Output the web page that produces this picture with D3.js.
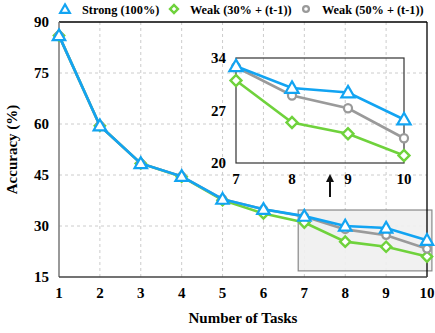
<!DOCTYPE html>
<html><head><meta charset="utf-8">
<script src="https://cdn.jsdelivr.net/npm/d3@7"></script>
<style>body{margin:0;background:#fff}svg{display:block}
svg text{font-family:"Liberation Serif";font-weight:700}</style>
</head><body><svg id="c" width="435" height="333"></svg>
<script>
const tasks = [1,2,3,4,5,6,7,8,9,10];
const strong = [86,59.5,48.4,44.6,37.9,34.9,32.9,30.0,29.4,25.8];
const weak30 = [86,59.5,48.4,44.5,37.6,33.7,31.0,25.4,23.9,21.0];
const weak50 = [86,59.5,48.4,44.6,37.9,34.9,32.8,29.0,27.3,23.3];
const yTicks = [15,30,45,60,75,90];
const insetTasks = [7,8,9,10];
const insetYTicks = [20,27,34];
const seriesNames = ["Strong (100%)","Weak (30% + (t-1))","Weak (50% + (t-1))"];
const colors = ["#12a4f2","#6fd23c","#9a9a9a"];
const shapes = ["triangle","diamond","circle"];

const svg = d3.select("#c");
const L=59,R=427,T=22,B=277;
const x = d3.scaleLinear().domain([1,10]).range([L,R]);
const y = d3.scaleLinear().domain([15,90]).range([B,T]);

// grid
const g = svg.append("g");
g.selectAll(".vg").data(tasks.slice(1,-1)).enter().append("line")
 .attr("x1",d=>x(d)).attr("x2",d=>x(d)).attr("y1",T).attr("y2",B)
 .attr("stroke","#ccc").attr("stroke-dasharray","3,3");
g.selectAll(".hg").data(yTicks.slice(1,-1)).enter().append("line")
 .attr("y1",d=>y(d)).attr("y2",d=>y(d)).attr("x1",L).attr("x2",R)
 .attr("stroke","#ccc").attr("stroke-dasharray","3,3");

// zoom box
svg.append("rect").attr("x",x(6.85)).attr("y",y(34.7)).attr("width",x(10.12)-x(6.85)).attr("height",y(16.8)-y(34.7))
 .attr("fill","#f0f0f0").attr("fill-opacity",0.9).attr("stroke","#888").attr("stroke-width",1.2);

// frame
svg.append("line").attr("x1",L).attr("x2",R).attr("y1",T).attr("y2",T).attr("stroke","#000").attr("stroke-width",1.3);
svg.append("line").attr("x1",R).attr("x2",R).attr("y1",T).attr("y2",B).attr("stroke","#000").attr("stroke-width",1.3);
svg.append("line").attr("x1",L).attr("x2",L).attr("y1",T).attr("y2",B).attr("stroke","#777").attr("stroke-width",1.5);
svg.append("line").attr("x1",L).attr("x2",R).attr("y1",B).attr("y2",B).attr("stroke","#444").attr("stroke-width",1.3);

// tick labels
svg.selectAll(".xt").data(tasks).enter().append("text").attr("x",d=>x(d)).attr("y",298)
 .attr("text-anchor","middle").attr("font-size",15).text(d=>d);
svg.selectAll(".yt").data(yTicks).enter().append("text").attr("x",49).attr("y",d=>y(d)+5)
 .attr("text-anchor","end").attr("font-size",15).text(d=>d);
svg.append("text").attr("x",x(5.5)).attr("y",323).attr("text-anchor","middle").attr("font-size",15).text("Number of Tasks");
svg.append("text").attr("transform",`translate(17,${(T+B)/2}) rotate(-90)`).attr("text-anchor","middle").attr("font-size",15).text("Accuracy (%)");

function marker(sel,shape,color,size){
  if(shape==="diamond"){
    sel.append("path").attr("d",d3.symbol(d3.symbolSquare,size*0.7)).attr("transform","rotate(45)")
      .attr("fill","#fff").attr("stroke",color).attr("stroke-width",2.4);
    return;
  }
  const sym = shape==="triangle"?d3.symbolTriangle:d3.symbolCircle;
  const s = shape==="triangle"?size*0.9:size*0.6;
  sel.append("path").attr("d",d3.symbol(sym,s)).attr("fill","#fff").attr("stroke",color).attr("stroke-width",2.2);
}
const data = [strong,weak30,weak50];
function drawSeries(parent,xs,ys,xVals,vals,size){
  [1,2,0].forEach(i=>{
    const pts = xVals.map((t,k)=>[xs(t),ys(vals[i][k])]);
    parent.append("path").attr("d",d3.line()(pts)).attr("fill","none").attr("stroke",colors[i]).attr("stroke-width",2.6);
    pts.forEach(p=>{
      const m = parent.append("g").attr("transform",`translate(${p[0]},${p[1]+(shapes[i]==="triangle"?1:0)})`);
      marker(m,shapes[i],colors[i],size);
    });
  });
}
drawSeries(svg,x,y,tasks,data,75);

// inset
const ix = d3.scaleLinear().domain([7,10]).range([236,404]);
const iy = d3.scaleLinear().domain([20,34]).range([163,58]);
svg.append("rect").attr("x",236).attr("y",58).attr("width",168).attr("height",105).attr("fill","none").attr("stroke","#333").attr("stroke-width",1.2);
const insetData = data.map(s=>s.slice(6));
drawSeries(svg,ix,iy,insetTasks,insetData,85);
svg.selectAll(".ixt").data(insetTasks).enter().append("text").attr("x",d=>ix(d)).attr("y",184)
 .attr("text-anchor","middle").attr("font-size",15).text(d=>d);
svg.selectAll(".iyt").data(insetYTicks).enter().append("text").attr("x",226).attr("y",d=>iy(d)+5)
 .attr("text-anchor","end").attr("font-size",15).text(d=>d);

// arrow
svg.append("defs").append("marker").attr("id","ah").attr("viewBox","0 0 10 10").attr("refX",5).attr("refY",5)
 .attr("markerWidth",4).attr("markerHeight",4).attr("orient","auto")
 .append("path").attr("d","M0,0L10,5L0,10z").attr("fill","#111");
svg.append("line").attr("x1",330).attr("x2",330).attr("y1",197).attr("y2",178).attr("stroke","#111").attr("stroke-width",2).attr("marker-end","url(#ah)");

// legend
const leg = [[65,82],[174,190],[306,322]];
seriesNames.forEach((n,i)=>{
  const m = svg.append("g").attr("transform",`translate(${leg[i][0]},${9+(i===0?1:0)})`);
  marker(m,shapes[i],colors[i],45);
  svg.append("text").attr("x",leg[i][1]).attr("y",14).attr("font-size",12.3).text(n);
});
</script></body></html>
